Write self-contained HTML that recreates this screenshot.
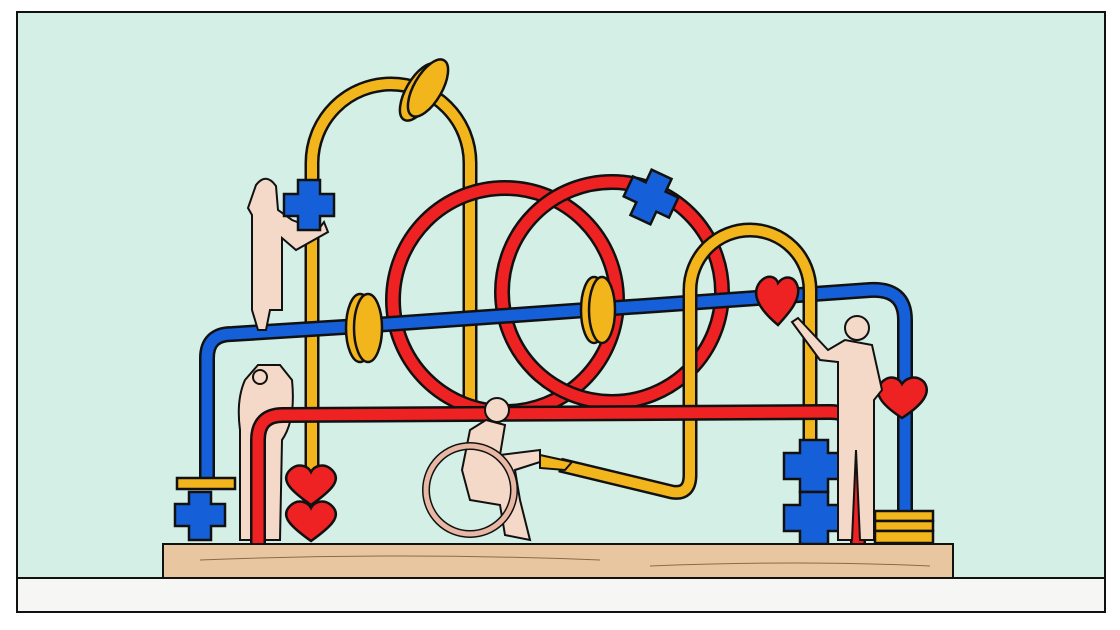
<!DOCTYPE html>
<html><head><style>body{margin:0;background:#fff}svg{display:block}</style></head><body>
<svg width="1120" height="630" viewBox="0 0 1120 630" xmlns="http://www.w3.org/2000/svg">
<rect x="0" y="0" width="1120" height="630" fill="#fff"/>
<rect x="17" y="12" width="1088" height="600" fill="#d4efe6" stroke="#111" stroke-width="2"/>
<rect x="17" y="578" width="1088" height="34" fill="#f6f6f4" stroke="#111" stroke-width="2"/>
<g fill="none" stroke-linecap="butt">
<path d="M312,470 L312,163 A79,79 0 0 1 470,163 L470,410" stroke="#111" stroke-width="15"/>
<path d="M312,470 L312,163 A79,79 0 0 1 470,163 L470,410" stroke="#f3b51c" stroke-width="10"/>
<circle cx="505" cy="300" r="112" stroke="#111" stroke-width="16"/>
<circle cx="505" cy="300" r="112" stroke="#ee2222" stroke-width="11"/>
<circle cx="612" cy="292" r="110" stroke="#111" stroke-width="16"/>
<circle cx="612" cy="292" r="110" stroke="#ee2222" stroke-width="11"/>
<path d="M207,478 L207,358 Q207,334 232,334 L360,326 L870,290 Q905,288 905,320 L905,512" stroke="#111" stroke-width="16"/>
<path d="M207,478 L207,358 Q207,334 232,334 L360,326 L870,290 Q905,288 905,320 L905,512" stroke="#1560d8" stroke-width="11"/>
<path d="M560,465 L672,492 Q690,495 690,475 L690,290 A60,60 0 0 1 810,290 L810,445" stroke="#111" stroke-width="15"/>
<path d="M560,465 L672,492 Q690,495 690,475 L690,290 A60,60 0 0 1 810,290 L810,445" stroke="#f3b51c" stroke-width="10"/>
</g>
<g stroke="#111" stroke-width="2.5" fill="#f3b51c">
<ellipse cx="360" cy="328" rx="14" ry="34"/><ellipse cx="368" cy="328" rx="14" ry="34"/>
<ellipse cx="594" cy="310" rx="13" ry="33"/><ellipse cx="602" cy="310" rx="13" ry="33"/>
<ellipse cx="420" cy="92" rx="14" ry="32" transform="rotate(30 420 92)"/><ellipse cx="428" cy="88" rx="14" ry="32" transform="rotate(30 428 88)"/>
<rect x="177" y="478" width="58" height="11"/>
<rect x="875" y="511" width="58" height="10"/><rect x="875" y="521" width="58" height="10"/><rect x="875" y="531" width="58" height="12"/>
</g>
<g fill="#f5d9c8" stroke="#111" stroke-width="2">
<path d="M256,185 Q266,172 276,186 L278,210 L292,220 L318,230 L324,222 L328,232 L296,250 L282,238 L282,310 L270,310 L266,330 L258,330 L252,310 L252,215 L248,208 Z"/>
<path d="M245,380 Q236,400 240,430 L240,540 L280,540 L282,440 Q296,420 292,380 L280,365 L258,365 Z"/>
<circle cx="260" cy="377" r="7"/>
</g>
<g fill="none">
<path d="M258,545 L258,440 Q258,415 283,415 L830,412 Q858,412 858,440 L858,545" stroke="#111" stroke-width="16"/>
<path d="M258,545 L258,440 Q258,415 283,415 L830,412 Q858,412 858,440 L858,545" stroke="#ee2222" stroke-width="11"/>
</g>
<g fill="#1560d8" stroke="#111" stroke-width="2.5">
<path d="M298,180 h22 v14 h14 v22 h-14 v14 h-22 v-14 h-14 v-22 h14z"/>
<path d="M640,172 h22 v14 h14 v22 h-14 v14 h-22 v-14 h-14 v-22 h14z" transform="rotate(25 651 197)"/>
<path d="M189,492 h22 v12 h14 v22 h-14 v14 h-22 v-14 h-14 v-22 h14z"/>
<path d="M800,440 h28 v13 h18 v26 h-18 v13 h-28 v-13 h-16 v-26 h16z"/>
<path d="M800,492 h28 v13 h18 v26 h-18 v13 h-28 v-13 h-16 v-26 h16z"/>
</g>
<g fill="#ee2222" stroke="#111" stroke-width="2.5">
<path d="M311,505 C290,490 280,480 290,470 C298,462 308,466 311,472 C314,466 324,462 332,470 C342,480 332,490 311,505z"/>
<path d="M311,541 C290,526 280,516 290,506 C298,498 308,502 311,508 C314,502 324,498 332,506 C342,516 332,526 311,541z"/>
<path d="M778,325 C760,310 750,295 760,282 C768,273 776,277 778,283 C784,275 795,275 798,288 C800,300 790,312 778,325z"/>
<path d="M902,418 C882,405 872,393 882,382 C890,374 899,378 902,384 C906,378 916,374 924,382 C932,393 922,405 902,418z"/>
</g>
<g fill="#f5d9c8" stroke="#111" stroke-width="2">
<circle cx="497" cy="410" r="12"/>
<path d="M486,420 L470,430 L462,470 L470,500 L500,505 L505,535 L530,540 L520,500 L515,470 L540,462 L540,450 L500,455 L505,425 Z"/>
<circle cx="470" cy="490" r="44" fill="none" stroke="#111" stroke-width="8"/>
<circle cx="470" cy="490" r="44" fill="none" stroke="#e8b8a4" stroke-width="5"/>
<path d="M540,455 L572,462 L565,470 L540,468Z" fill="#f3b51c"/>
<circle cx="857" cy="328" r="12"/>
<path d="M845,340 L828,350 L798,318 L792,322 L820,360 L838,362 L838,540 L852,540 L856,450 L860,540 L874,540 L874,400 L882,390 L872,345 Z"/>
</g>
<rect x="163" y="544" width="790" height="34" fill="#e8c7a0" stroke="#111" stroke-width="2"/>
<path d="M200,560 Q400,552 600,560 M650,566 Q800,560 930,566" stroke="#8a6a4a" stroke-width="1" fill="none"/>
</svg>
</body></html>
